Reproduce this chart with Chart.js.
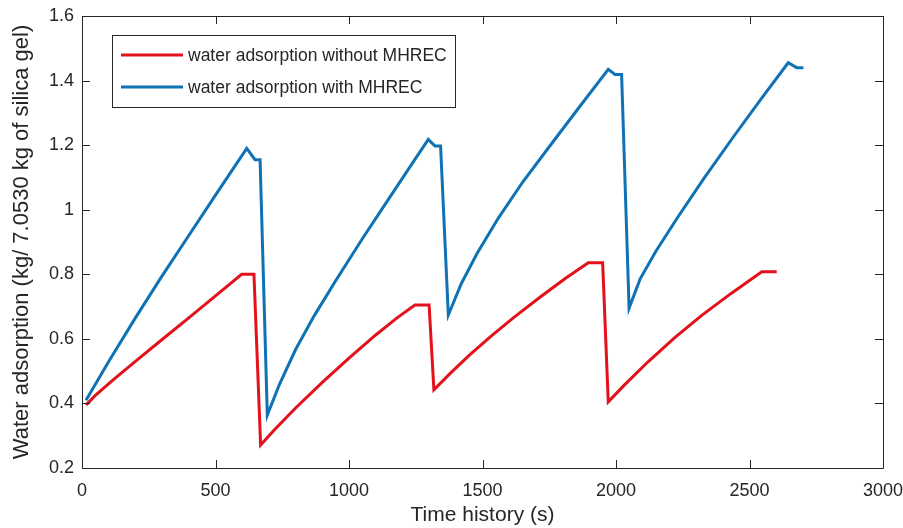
<!DOCTYPE html>
<html>
<head>
<meta charset="utf-8">
<script src="https://cdn.jsdelivr.net/npm/chart.js@4/dist/chart.umd.min.js"></script>
<style>
  html, body { margin: 0; padding: 0; background: #ffffff; }
  #wrap { width: 903px; height: 528px; position: relative; }
</style>
</head>
<body>
<div id="wrap"><canvas id="c" width="903" height="528"></canvas></div>
<script>
// ---- data ----
const seriesNames = ['water adsorption without MHREC', 'water adsorption with MHREC'];

const timeWithout = [15, 50, 120, 200, 300, 400, 500, 598, 644,
                     669, 720, 800, 900, 1000, 1100, 1180, 1247, 1300,
                     1318, 1380, 1450, 1530, 1620, 1720, 1810, 1896, 1950,
                     1971, 2030, 2120, 2220, 2320, 2430, 2546, 2602];
const adsWithout  = [0.395, 0.425, 0.475, 0.53, 0.598, 0.665, 0.733, 0.80, 0.80,
                     0.271, 0.318, 0.386, 0.465, 0.54, 0.612, 0.665, 0.705, 0.705,
                     0.442, 0.494, 0.549, 0.607, 0.668, 0.732, 0.787, 0.836, 0.836,
                     0.405, 0.456, 0.529, 0.604, 0.672, 0.74, 0.808, 0.808];

const timeWith = [15, 100, 200, 300, 400, 500, 617, 648, 667,
                  694, 740, 800, 870, 950, 1050, 1150, 1250, 1297, 1322, 1343,
                  1372, 1420, 1480, 1560, 1650, 1750, 1860, 1971, 1996, 2021,
                  2049, 2090, 2150, 2230, 2330, 2440, 2545, 2645, 2677, 2702];
const adsWith  = [0.41, 0.53, 0.665, 0.795, 0.92, 1.045, 1.19, 1.155, 1.155,
                  0.364, 0.46, 0.567, 0.672, 0.78, 0.91, 1.035, 1.16, 1.218, 1.197, 1.197,
                  0.674, 0.77, 0.865, 0.975, 1.085, 1.195, 1.315, 1.435, 1.419, 1.419,
                  0.695, 0.785, 0.872, 0.975, 1.098, 1.226, 1.345, 1.455, 1.44, 1.44];

const xTickLabels = ['0', '500', '1000', '1500', '2000', '2500', '3000'];
const yTickLabels = ['0.2', '0.4', '0.6', '0.8', '1', '1.2', '1.4', '1.6'];

const xTitle = 'Time history (s)';
const yTitle = 'Water adsorption (kg/ 7.0530 kg of silica gel)';

// ---- styling ----
const RED = '#e3111b';
const BLUE = '#0f72b5';
const INK = '#262626';
const FONT = '"Liberation Sans", Arial, sans-serif';

function toPoints(xs, ys) { return xs.map((x, i) => ({ x: x, y: ys[i] })); }

const boxPlugin = {
  id: 'boxPlugin',
  afterDraw(chart) {
    const ctx = chart.ctx;
    const a = chart.chartArea;
    const xs = chart.scales.x, ys = chart.scales.y;
    ctx.save();
    ctx.strokeStyle = INK;
    ctx.lineWidth = 1;
    ctx.beginPath();
    ctx.rect(Math.round(a.left) + 0.5, Math.round(a.top) + 0.5, Math.round(a.right - a.left), Math.round(a.bottom - a.top));
    ctx.stroke();
    const tl = 8;
    ctx.beginPath();
    xs.ticks.forEach(t => {
      const px = Math.round(xs.getPixelForValue(t.value)) + 0.5;
      ctx.moveTo(px, a.bottom); ctx.lineTo(px, a.bottom - tl);
      ctx.moveTo(px, a.top); ctx.lineTo(px, a.top + tl);
    });
    ys.ticks.forEach(t => {
      const py = Math.round(ys.getPixelForValue(t.value)) + 0.5;
      ctx.moveTo(a.left, py); ctx.lineTo(a.left + tl, py);
      ctx.moveTo(a.right, py); ctx.lineTo(a.right - tl, py);
    });
    ctx.stroke();

    // legend box inside the plot
    const lx = 112, ly = 35, lw = 343, lh = 72;
    ctx.fillStyle = '#ffffff';
    ctx.fillRect(lx, ly, lw, lh);
    ctx.strokeStyle = INK;
    ctx.strokeRect(lx + 0.5, ly + 0.5, lw, lh);
    const rows = [55, 87];
    chart.data.datasets.forEach((ds, i) => {
      ctx.strokeStyle = ds.borderColor;
      ctx.lineWidth = 3;
      ctx.beginPath();
      ctx.moveTo(121, rows[i]); ctx.lineTo(183, rows[i]);
      ctx.stroke();
      ctx.fillStyle = INK;
      ctx.font = '17.5px ' + FONT;
      ctx.textBaseline = 'middle';
      ctx.textAlign = 'left';
      ctx.fillText(ds.label, 188, rows[i] + 1);
    });
    ctx.restore();
  }
};

new Chart(document.getElementById('c'), {
  type: 'line',
  data: {
    datasets: [
      { label: seriesNames[0], data: toPoints(timeWithout, adsWithout), borderColor: RED, backgroundColor: RED, borderWidth: 3, pointRadius: 0, tension: 0, fill: false, borderJoinStyle: 'miter' },
      { label: seriesNames[1], data: toPoints(timeWith, adsWith), borderColor: BLUE, backgroundColor: BLUE, borderWidth: 3, pointRadius: 0, tension: 0, fill: false, borderJoinStyle: 'miter' }
    ]
  },
  options: {
    responsive: false,
    animation: false,
    devicePixelRatio: 1,
    layout: { padding: { left: 0, right: 20, top: 16, bottom: 0 } },
    plugins: { legend: { display: false }, tooltip: { enabled: false } },
    scales: {
      x: {
        type: 'linear', min: 0, max: 3000,
        afterFit(s) { s.height = 60; s.paddingLeft = 0; s.paddingRight = 0; },
        afterBuildTicks(s) { s.ticks = xTickLabels.map(v => ({ value: Number(v) })); },
        ticks: { color: INK, font: { family: FONT, size: 18 }, padding: 12, maxRotation: 0,
                 callback: (v, i) => xTickLabels[i] },
        grid: { display: false, drawTicks: false },
        border: { display: false },
        title: { display: true, text: xTitle, color: INK, font: { family: FONT, size: 21 }, padding: { top: 0, bottom: 0 } }
      },
      y: {
        type: 'linear', min: 0.2, max: 1.6,
        afterFit(s) { s.width = 82; s.paddingTop = 0; s.paddingBottom = 0; },
        afterBuildTicks(s) { s.ticks = yTickLabels.map(v => ({ value: Number(v) })); },
        ticks: { color: INK, font: { family: FONT, size: 18 }, padding: 8,
                 callback: (v, i) => yTickLabels[i] },
        grid: { display: false, drawTicks: false },
        border: { display: false },
        title: { display: true, text: yTitle, color: INK, font: { family: FONT, size: 22 }, padding: { top: 9, bottom: 0 } }
      }
    }
  },
  plugins: [boxPlugin]
});
</script>
</body>
</html>
